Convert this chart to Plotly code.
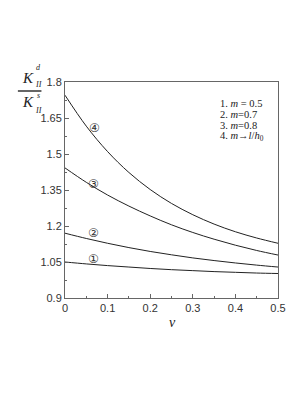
import plotly.graph_objects as go

nu = [0.0, 0.05, 0.1, 0.15, 0.2, 0.25, 0.3, 0.35, 0.4, 0.45, 0.5]
k1 = [1.050, 1.042, 1.035, 1.029, 1.023, 1.018, 1.014, 1.010, 1.007, 1.004, 1.002]
k2 = [1.170, 1.148, 1.128, 1.110, 1.094, 1.080, 1.067, 1.056, 1.046, 1.037, 1.029]
k3 = [1.442, 1.382, 1.329, 1.283, 1.242, 1.205, 1.173, 1.145, 1.120, 1.098, 1.079]
k4 = [1.745, 1.616, 1.510, 1.423, 1.352, 1.294, 1.247, 1.208, 1.176, 1.150, 1.128]
series = [k1, k2, k3, k4]

curve_labels = ["\u2460", "\u2461", "\u2462", "\u2463"]
label_x = [0.067, 0.067, 0.067, 0.069]
label_y = [1.062, 1.170, 1.375, 1.610]

legend_lines = ["1. <i>m</i> = 0.5", "2. <i>m</i>=0.7", "3. <i>m</i>=0.8",
                "4. <i>m</i>\u2192<i>l</i>/<i>h</i><sub>0</sub>"]

x_ticks = [0, 0.1, 0.2, 0.3, 0.4, 0.5]
x_tick_text = ["0", "0.1", "0.2", "0.3", "0.4", "0.5"]
y_ticks = [0.9, 1.05, 1.2, 1.35, 1.5, 1.65, 1.8]
y_tick_text = ["0.9", "1.05", "1.2", "1.35", "1.5", "1.65", "1.8"]

OFF = 8  # page body margin
W, H = 290, 380
L, T = 65 - OFF, 82 - OFF
pw, ph = 217, 216
R, B = W - L - pw, H - T - ph

def px(x):
    return (x - OFF - L) / pw

def py(y):
    return (H - B - (y - OFF)) / ph

fig = go.Figure()
for s in series:
    fig.add_trace(go.Scatter(x=nu, y=s, mode="lines", line=dict(color="#222", width=1, shape="spline"),
                             showlegend=False, hoverinfo="skip"))

serif = "Liberation Serif"
ann = []
for t, xx, yy in zip(curve_labels, label_x, label_y):
    ann.append(dict(x=xx, y=yy, xref="x", yref="y", text=t, showarrow=False,
                    font=dict(family="DejaVu Sans", size=12, color="#333")))
for i, t in enumerate(legend_lines):
    ann.append(dict(x=px(221), y=py(103 + i * 11), xref="paper", yref="paper", text=t,
                    showarrow=False, xanchor="left", yanchor="middle",
                    font=dict(family=serif, size=10.5, color="#222")))

def txt(x, y, t, size):
    ann.append(dict(x=px(x), y=py(y), xref="paper", yref="paper", text=t, showarrow=False,
                    xanchor="center", yanchor="middle", font=dict(family=serif, size=size, color="#222")))

txt(27, 78, "<i>K</i>", 15)
txt(38, 67, "<i>d</i>", 8)
txt(38, 85, "<i>II</i>", 8)
txt(27, 102, "<i>K</i>", 15)
txt(38, 95, "<i>s</i>", 8)
txt(38, 110, "<i>II</i>", 8)
txt(175, 322, "<i>\u03bd</i>", 14)

fig.add_shape(type="line", xref="paper", yref="paper", x0=px(17), x1=px(41), y0=py(91), y1=py(91),
              line=dict(color="#333", width=1.5))

axis_common = dict(showgrid=False, zeroline=False, showline=True, linecolor="#666", linewidth=1,
                   mirror=True, ticks="inside", ticklen=4, tickcolor="#666",
                   tickfont=dict(family="Liberation Sans", size=11, color="#333"))

fig.update_xaxes(range=[0, 0.5], tickvals=x_ticks, ticktext=x_tick_text,
                 minor=dict(ticks="inside", ticklen=2, tickcolor="#666",
                            tickvals=[0.05, 0.15, 0.25, 0.35, 0.45]),
                 **axis_common)
fig.update_yaxes(range=[0.9, 1.8], tickvals=y_ticks, ticktext=y_tick_text,
                 minor=dict(ticks="inside", ticklen=2, tickcolor="#666",
                            tickvals=[0.975, 1.125, 1.275, 1.425, 1.575, 1.725]),
                 **axis_common)

fig.update_layout(width=W, height=H, margin=dict(l=L, r=R, t=T, b=B),
                  paper_bgcolor="white", plot_bgcolor="white", annotations=ann)

fig.write_html("out.html")
